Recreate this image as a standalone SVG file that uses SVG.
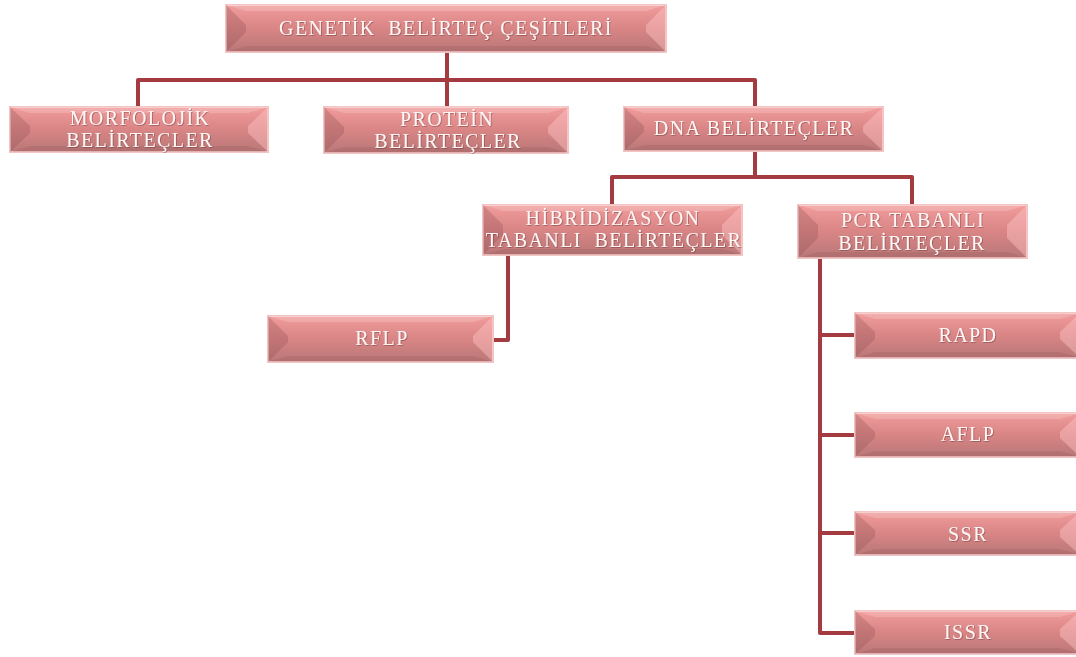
<svg xmlns="http://www.w3.org/2000/svg" width="1076" height="657" viewBox="0 0 1076 657">
<defs>
<linearGradient id="g" x1="0" y1="0" x2="0" y2="1">
<stop offset="0" stop-color="#F29C9C"/>
<stop offset="0.5" stop-color="#D98585"/>
<stop offset="1" stop-color="#B97777"/>
</linearGradient>
<filter id="ts" x="-5%" y="-20%" width="110%" height="140%">
<feDropShadow dx="0.8" dy="0.8" stdDeviation="0.6" flood-color="#6E2E2E" flood-opacity="0.55"/>
</filter>
</defs>
<style>
.box{fill:url(#g);stroke:#F3C4C4;stroke-width:2}
.bl{fill:#8E4E52;fill-opacity:0.3}
.br{fill:#FFC4C4;fill-opacity:0.45}
.bt{fill:#FFFFFF;fill-opacity:0.18}
.bb{fill:#6E3236;fill-opacity:0.12}
.t{font-family:"Liberation Serif","Times New Roman",serif;font-size:20px;letter-spacing:1.4px;fill:#FFF6F6;text-anchor:middle;filter:url(#ts)}
.c{fill:none;stroke:#A33B40;stroke-width:4;stroke-linejoin:round;stroke-linecap:butt}
</style>
<g id="connectors">
<path class="c" d="M447 52 V107"/>
<path class="c" d="M138 107 V80 H755 V107"/>
<path class="c" d="M755 151 V177"/>
<path class="c" d="M612 205 V177 H912 V205"/>
<path class="c" d="M508 255 V340 H493"/>
<path class="c" d="M820 258 V633 H855"/>
<path class="c" d="M820 335 H855"/>
<path class="c" d="M820 435 H855"/>
<path class="c" d="M820 533 H855"/>
</g>
<g id="n-genetik">
<rect class="box" x="226" y="5" width="440" height="47"/>
<polygon class="bt" points="226,5 666,5 646,11 246,11"/>
<polygon class="bb" points="226,52 666,52 646,46 246,46"/>
<polygon class="bl" points="226,5 246,25 246,32 226,52"/>
<polygon class="br" points="666,5 646,25 646,32 666,52"/>
<text class="t" x="446" y="35" style="white-space:pre">GENETİK  BELİRTEÇ ÇEŞİTLERİ</text>
</g>
<g id="n-morfolojik">
<rect class="box" x="10" y="107" width="258" height="45"/>
<polygon class="bt" points="10,107 268,107 248,113 30,113"/>
<polygon class="bb" points="10,152 268,152 248,146 30,146"/>
<polygon class="bl" points="10,107 30,126 30,133 10,152"/>
<polygon class="br" points="268,107 248,126 248,133 268,152"/>
<text class="t" x="140" y="125">MORFOLOJİK</text>
<text class="t" x="140" y="147">BELİRTEÇLER</text>
</g>
<g id="n-protein">
<rect class="box" x="324" y="107" width="244" height="46"/>
<polygon class="bt" points="324,107 568,107 548,113 344,113"/>
<polygon class="bb" points="324,153 568,153 548,147 344,147"/>
<polygon class="bl" points="324,107 344,127 344,133 324,153"/>
<polygon class="br" points="568,107 548,127 548,133 568,153"/>
<text class="t" x="447" y="126">PROTEİN</text>
<text class="t" x="448" y="148">BELİRTEÇLER</text>
</g>
<g id="n-dna">
<rect class="box" x="624" y="107" width="259" height="44"/>
<polygon class="bt" points="624,107 883,107 863,113 644,113"/>
<polygon class="bb" points="624,151 883,151 863,145 644,145"/>
<polygon class="bl" points="624,107 644,126 644,132 624,151"/>
<polygon class="br" points="883,107 863,126 863,132 883,151"/>
<text class="t" x="754" y="135">DNA BELİRTEÇLER</text>
</g>
<g id="n-hibridizasyon">
<rect class="box" x="483" y="205" width="259" height="50"/>
<polygon class="bt" points="483,205 742,205 722,211 503,211"/>
<polygon class="bb" points="483,255 742,255 722,249 503,249"/>
<polygon class="bl" points="483,205 503,225 503,235 483,255"/>
<polygon class="br" points="742,205 722,225 722,235 742,255"/>
<text class="t" x="613" y="225">HİBRİDİZASYON</text>
<text class="t" x="614" y="247" style="white-space:pre">TABANLI  BELİRTEÇLER</text>
</g>
<g id="n-pcr">
<rect class="box" x="798" y="205" width="229" height="53"/>
<polygon class="bt" points="798,205 1027,205 1007,211 818,211"/>
<polygon class="bb" points="798,258 1027,258 1007,252 818,252"/>
<polygon class="bl" points="798,205 818,225 818,238 798,258"/>
<polygon class="br" points="1027,205 1007,225 1007,238 1027,258"/>
<text class="t" x="913" y="227">PCR TABANLI</text>
<text class="t" x="912" y="250">BELİRTEÇLER</text>
</g>
<g id="n-rflp">
<rect class="box" x="268" y="316" width="225" height="46"/>
<polygon class="bt" points="268,316 493,316 473,322 288,322"/>
<polygon class="bb" points="268,362 493,362 473,356 288,356"/>
<polygon class="bl" points="268,316 288,336 288,342 268,362"/>
<polygon class="br" points="493,316 473,336 473,342 493,362"/>
<text class="t" x="382" y="345">RFLP</text>
</g>
<g id="n-rapd">
<rect class="box" x="855" y="313" width="225" height="45"/>
<polygon class="bt" points="855,313 1080,313 1060,319 875,319"/>
<polygon class="bb" points="855,358 1080,358 1060,352 875,352"/>
<polygon class="bl" points="855,313 875,332 875,339 855,358"/>
<polygon class="br" points="1080,313 1060,332 1060,339 1080,358"/>
<text class="t" x="968" y="342">RAPD</text>
</g>
<g id="n-aflp">
<rect class="box" x="855" y="413" width="225" height="44"/>
<polygon class="bt" points="855,413 1080,413 1060,419 875,419"/>
<polygon class="bb" points="855,457 1080,457 1060,451 875,451"/>
<polygon class="bl" points="855,413 875,432 875,438 855,457"/>
<polygon class="br" points="1080,413 1060,432 1060,438 1080,457"/>
<text class="t" x="968" y="441">AFLP</text>
</g>
<g id="n-ssr">
<rect class="box" x="855" y="512" width="225" height="43"/>
<polygon class="bt" points="855,512 1080,512 1060,518 875,518"/>
<polygon class="bb" points="855,555 1080,555 1060,549 875,549"/>
<polygon class="bl" points="855,512 875,530 875,537 855,555"/>
<polygon class="br" points="1080,512 1060,530 1060,537 1080,555"/>
<text class="t" x="968" y="541">SSR</text>
</g>
<g id="n-issr">
<rect class="box" x="855" y="611" width="225" height="43"/>
<polygon class="bt" points="855,611 1080,611 1060,617 875,617"/>
<polygon class="bb" points="855,654 1080,654 1060,648 875,648"/>
<polygon class="bl" points="855,611 875,629 875,636 855,654"/>
<polygon class="br" points="1080,611 1060,629 1060,636 1080,654"/>
<text class="t" x="968" y="639">ISSR</text>
</g>
</svg>
